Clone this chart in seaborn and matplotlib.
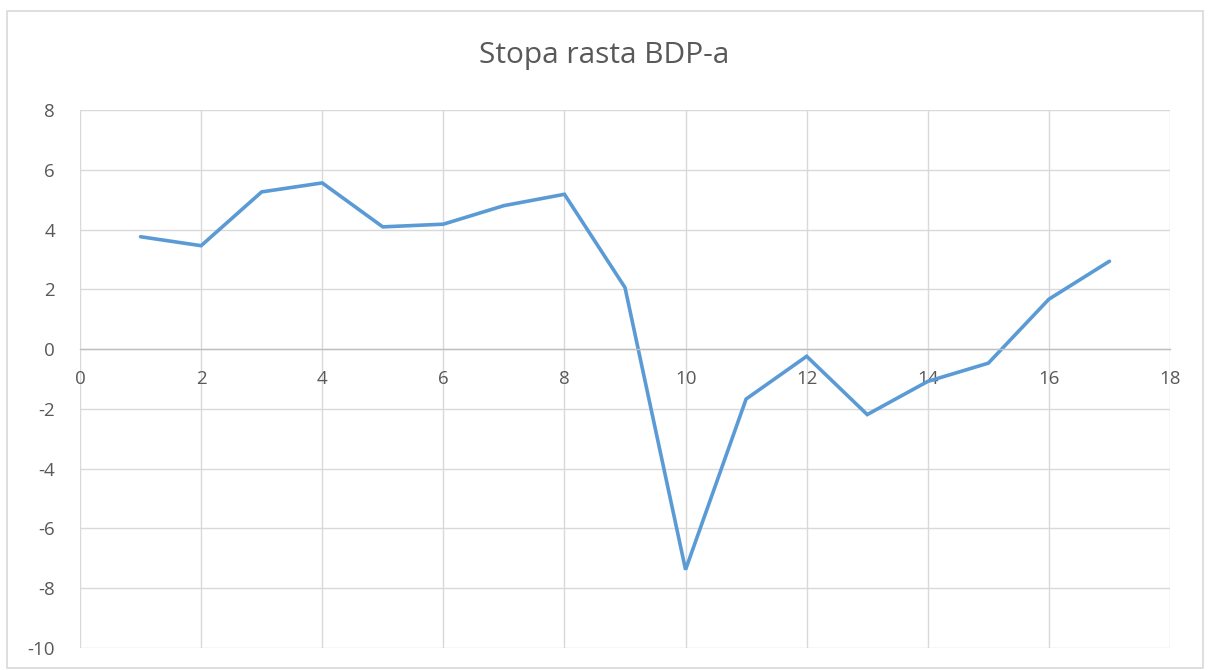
import matplotlib
matplotlib.use("Agg")
import matplotlib.pyplot as plt
import seaborn as sns
import pandas as pd
from matplotlib.patches import Rectangle

period = [1, 2, 3, 4, 5, 6, 7, 8, 9, 10, 11, 12, 13, 14, 15, 16, 17]
growth = [3.76, 3.46, 5.26, 5.56, 4.09, 4.18, 4.80, 5.18, 2.06, -7.38,
          -1.67, -0.24, -2.19, -1.08, -0.47, 1.67, 2.94]
x_ticks = [0, 2, 4, 6, 8, 10, 12, 14, 16, 18]
y_ticks = [-10, -8, -6, -4, -2, 0, 2, 4, 6, 8]
title = "Stopa rasta BDP-a"

df = pd.DataFrame({"period": period, "growth": growth})

sns.set_theme(style="white")
plt.rcParams['font.family'] = ['Open Sans', 'DejaVu Sans']

fig = plt.figure(figsize=(12.08, 6.70), dpi=100)
ax = fig.add_axes([80/1208, 1-648/670, (1170-80)/1208, (648-110)/670])

sns.lineplot(data=df, x="period", y="growth", ax=ax, color="#5b9bd5",
             linewidth=2.6, solid_joinstyle="miter")

ax.set_xlim(0, 18)
ax.set_ylim(-10, 8)
ax.set_xticks(x_ticks)
ax.set_yticks(y_ticks)
ax.set_xticklabels([str(v) for v in x_ticks])
ax.set_yticklabels([str(v) for v in y_ticks])
ax.grid(True, color="#d9d9d9", linewidth=1.0)
ax.set_axisbelow(True)
ax.set_xlabel("")
ax.set_ylabel("")

for s in ["top", "right", "left"]:
    ax.spines[s].set_visible(False)
ax.spines["bottom"].set_position(("data", 0))
ax.spines["bottom"].set_color("#bfbfbf")
ax.spines["bottom"].set_linewidth(1.0)

ax.tick_params(axis="both", length=0, labelsize=13.5, labelcolor="#595959")
ax.tick_params(axis="x", pad=15)
ax.tick_params(axis="y", pad=18)

fig.text(0.5, 1-55/670, title, ha="center", va="center", fontsize=21.5,
         color="#595959")

fig.patches.append(Rectangle((7/1208, 2/670), 1196/1208, 657/670,
                             transform=fig.transFigure, fill=False,
                             edgecolor="#d9d9d9", linewidth=1.2))

fig.savefig("out.png", dpi=100)
